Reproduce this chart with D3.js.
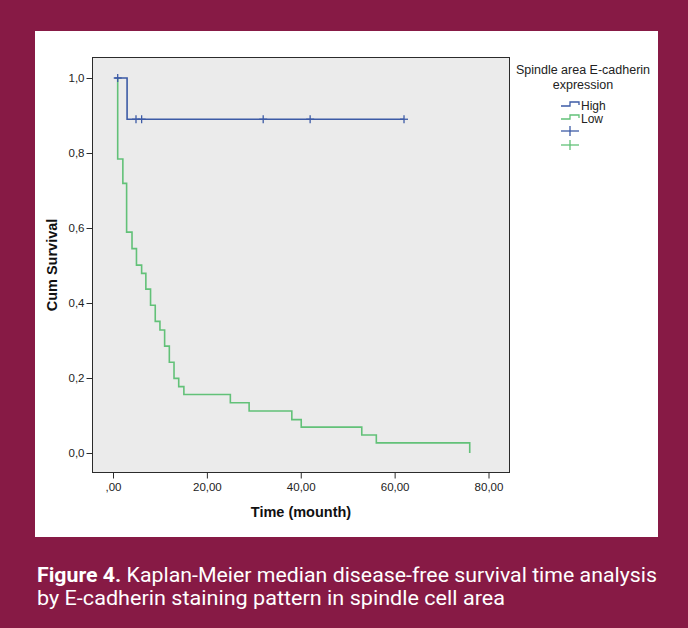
<!DOCTYPE html>
<html>
<head>
<meta charset="utf-8">
<script src="https://cdn.jsdelivr.net/npm/d3@7"></script>
<style>
  html, body { margin: 0; padding: 0; background: #871a45; }
  svg { display: block; }
</style>
</head>
<body>
<svg id="chart" width="688" height="628"></svg>
<script>
// ---------------- data ----------------
const xTickValues = [0, 20, 40, 60, 80];
const xTickLabels = [",00", "20,00", "40,00", "60,00", "80,00"];
const yTickValues = [0, 0.2, 0.4, 0.6, 0.8, 1.0];
const yTickLabels = ["0,0", "0,2", "0,4", "0,6", "0,8", "1,0"];

// High expression group (blue)
const highStart = 0.3;
const highTimes = [3, 62];
const highSurv  = [0.89, 0.89];
const highCensor = [1, 4.9, 6.1, 32, 42, 62];

// Low expression group (green)
const lowStart = 1.0;
const lowTimes = [1.0, 2.1, 2.9, 4.05, 5.0, 6.1, 7.0, 8.0, 9.0, 10.0, 11.0, 12.0, 13.0, 14.0, 15.1, 25.0, 29.0, 38.1, 40.1, 53.0, 56.1, 76.0];
const lowSurv  = [0.784, 0.719, 0.589, 0.545, 0.501, 0.479, 0.437, 0.394, 0.351, 0.328, 0.285, 0.242, 0.199, 0.177, 0.156, 0.134, 0.112, 0.089, 0.069, 0.048, 0.027, 0.0];

const seriesNames = ["High", "Low"];
const legendTitle = ["Spindle area E-cadherin", "expression"];
const xTitle = "Time (mounth)";
const yTitle = "Cum Survival";
const captionBold = "Figure 4.";
const captionLine1 = " Kaplan-Meier median disease-free survival time analysis";
const captionLine2 = "by E-cadherin staining pattern in spindle cell area";

// ---------------- layout ----------------
const svg = d3.select("#chart");
const blue = "#3d5ba6", green = "#62c178";
const font = "'Liberation Sans', Arial, sans-serif";

svg.append("rect").attr("x", 0).attr("y", 0).attr("width", 688).attr("height", 628).attr("fill", "#871a45");
svg.append("rect").attr("x", 35).attr("y", 31).attr("width", 623).attr("height", 506).attr("fill", "#ffffff");

const plot = { left: 92, top: 57, right: 509, bottom: 472 };
svg.append("rect")
  .attr("x", plot.left + 0.5).attr("y", plot.top + 0.5)
  .attr("width", plot.right - plot.left).attr("height", plot.bottom - plot.top)
  .attr("fill", "#ebebeb").attr("stroke", "#2b2b2b").attr("stroke-width", 1);

const x = d3.scaleLinear().domain([0, 80]).range([113, 488.5]);
const y = d3.scaleLinear().domain([0, 1]).range([453, 78]);

// axes
const yAxis = d3.axisLeft(y).tickValues(yTickValues)
  .tickFormat((d, i) => yTickLabels[i]).tickSize(6).tickPadding(2);
const gy = svg.append("g").attr("transform", `translate(${plot.left + 0.5},0)`).call(yAxis);
gy.select(".domain").remove();
gy.selectAll("line").attr("stroke", "#2b2b2b");
gy.selectAll("text").attr("font-family", font).attr("font-size", 11.5).attr("fill", "#222");

const xAxis = d3.axisBottom(x).tickValues(xTickValues)
  .tickFormat((d, i) => xTickLabels[i]).tickSize(6).tickPadding(4);
const gx = svg.append("g").attr("transform", `translate(0,${plot.bottom + 0.5})`).call(xAxis);
gx.select(".domain").remove();
gx.selectAll("line").attr("stroke", "#2b2b2b");
gx.selectAll("text").attr("font-family", font).attr("font-size", 11.5).attr("fill", "#222");

// axis titles
svg.append("text").attr("x", 301).attr("y", 517).attr("text-anchor", "middle")
  .attr("font-family", font).attr("font-weight", "bold").attr("font-size", 14.5).attr("fill", "#111")
  .text(xTitle);
svg.append("text").attr("transform", "translate(57,265) rotate(-90)").attr("text-anchor", "middle")
  .attr("font-family", font).attr("font-weight", "bold").attr("font-size", 14.5).attr("fill", "#111")
  .text(yTitle);

// curves
const line = d3.line().x(d => x(d[0])).y(d => y(d[1])).curve(d3.curveStepAfter);
const highPts = [[highStart, 1]].concat(highTimes.map((t, i) => [t, highSurv[i]]));
const lowPts = [[lowStart, 1]].concat(lowTimes.map((t, i) => [t, lowSurv[i]]));

svg.append("path").datum(lowPts).attr("d", line).attr("fill", "none")
  .attr("stroke", green).attr("stroke-width", 1.6);
svg.append("path").datum(highPts).attr("d", line).attr("fill", "none")
  .attr("stroke", blue).attr("stroke-width", 1.6);

function survAt(pts, t) {
  let s = pts[0][1];
  for (const p of pts) { if (p[0] <= t) s = p[1]; }
  return s;
}
const cg = svg.append("g").attr("stroke", blue).attr("stroke-width", 1.3);
highCensor.forEach(t => {
  const cx = x(t), cy = y(survAt(highPts, t));
  cg.append("line").attr("x1", cx).attr("x2", cx).attr("y1", cy - 4).attr("y2", cy + 4);
  cg.append("line").attr("x1", cx - 4).attr("x2", cx + 4).attr("y1", cy).attr("y2", cy);
});

// legend
const lg = svg.append("g").attr("font-family", font).attr("fill", "#222");
lg.append("text").attr("x", 583).attr("y", 74).attr("text-anchor", "middle").attr("font-size", 12.5).text(legendTitle[0]);
lg.append("text").attr("x", 583).attr("y", 89).attr("text-anchor", "middle").attr("font-size", 12.5).text(legendTitle[1]);
const legendColors = [blue, green];
seriesNames.forEach((name, i) => {
  const yy = 106 + i * 13;
  lg.append("path")
    .attr("d", `M561,${yy} H570 V${yy - 4} H579 V${yy - 1}`)
    .attr("fill", "none").attr("stroke", legendColors[i]).attr("stroke-width", 1.3);
  lg.append("text").attr("x", 581).attr("y", yy + 4).attr("font-size", 12).text(name);
});
legendColors.forEach((c, i) => {
  const yy = 131 + i * 14;
  lg.append("line").attr("x1", 561).attr("x2", 579).attr("y1", yy).attr("y2", yy).attr("stroke", c).attr("stroke-width", 1.3);
  lg.append("line").attr("x1", 570).attr("x2", 570).attr("y1", yy - 5).attr("y2", yy + 5).attr("stroke", c).attr("stroke-width", 1.3);
});

// caption
const capFont = "'Roboto', 'Liberation Sans Narrow', sans-serif";
const c1 = svg.append("text").attr("x", 37).attr("y", 582).attr("font-family", capFont)
  .attr("font-size", 21).attr("fill", "#ffffff")
  .attr("textLength", 620).attr("lengthAdjust", "spacingAndGlyphs");
c1.append("tspan").attr("font-weight", "bold").text(captionBold);
c1.append("tspan").text(captionLine1);
svg.append("text").attr("x", 37).attr("y", 605).attr("font-family", capFont)
  .attr("font-size", 21).attr("fill", "#ffffff")
  .attr("textLength", 468).attr("lengthAdjust", "spacingAndGlyphs")
  .text(captionLine2);
</script>
</body>
</html>
